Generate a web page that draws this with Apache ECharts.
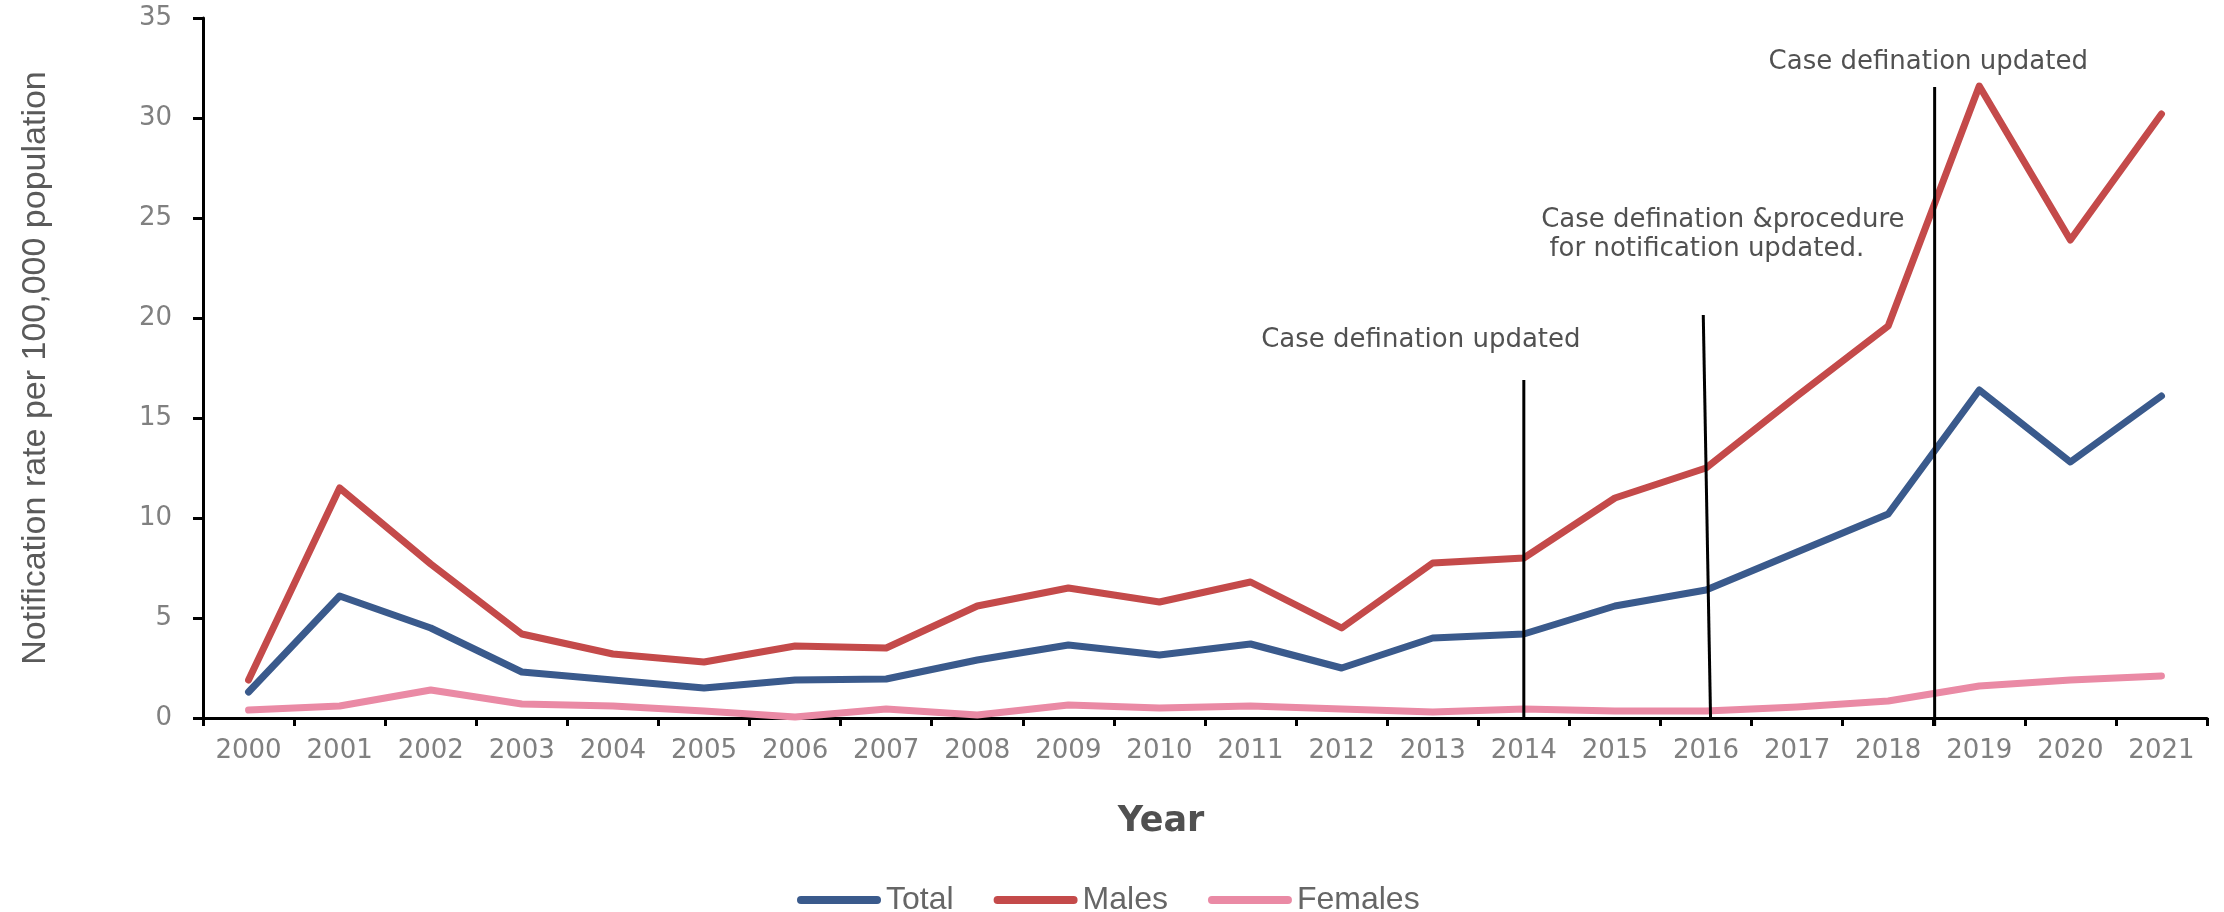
<!DOCTYPE html>
<html>
<head>
<meta charset="utf-8">
<script src="https://cdn.jsdelivr.net/npm/echarts@6/dist/echarts.min.js"></script>
<style>
html,body{margin:0;padding:0;background:#fff;}
#chart{width:2224px;height:912px;}
</style>
</head>
<body>
<div id="chart"></div>
<script>
// ---- data ----
const years = ['2000','2001','2002','2003','2004','2005','2006','2007','2008','2009','2010','2011','2012','2013','2014','2015','2016','2017','2018','2019','2020','2021'];
const total   = [1.3, 6.1, 4.5, 2.3, 1.9, 1.5, 1.9, 1.95, 2.9, 3.65, 3.15, 3.7, 2.5, 4.0, 4.2, 5.6, 6.4, 8.3, 10.2, 16.4, 12.8, 16.1];
const males   = [1.9, 11.5, 7.7, 4.2, 3.2, 2.8, 3.6, 3.5, 5.6, 6.5, 5.8, 6.8, 4.5, 7.75, 8.0, 11.0, 12.5, 16.1, 19.6, 31.6, 23.9, 30.2];
const females = [0.4, 0.6, 1.4, 0.7, 0.6, 0.35, 0.05, 0.45, 0.15, 0.65, 0.5, 0.6, 0.45, 0.3, 0.45, 0.35, 0.35, 0.55, 0.85, 1.6, 1.9, 2.1];
const yTicks  = {min: 0, max: 35, step: 5};

// annotation lines: [x (category index), y] start/end pairs
const annotLine1 = [[14.0, 0], [14.0, 16.9]];
const annotLine2 = [[16.05, 0], [15.97, 20.15]];
const annotLine3 = [[18.51, -0.4], [18.51, 31.55]];
// annotation texts: [x (category index), y, text]
const annotText1 = [12.87, 18.9, 'Case defination updated'];
const annotText2 = [14.19, 24.18, 'Case defination &procedure\n for notification updated.'];
const annotText3 = [18.44, 32.8, 'Case defination updated'];

const seriesNames = ['Total', 'Males', 'Females'];
const seriesColors = ['#3A5A8C', '#C44A4A', '#EA8AA5'];

// ---- chart ----
const chart = echarts.init(document.getElementById('chart'), null, {renderer: 'canvas'});

const lineSeries = [total, males, females].map((d, i) => ({
  name: seriesNames[i],
  type: 'line',
  data: d,
  xAxisIndex: 0,
  yAxisIndex: 0,
  symbol: 'none',
  smooth: false,
  lineStyle: {color: seriesColors[i], width: 7, cap: 'round', join: 'round'},
  itemStyle: {color: seriesColors[i]},
  z: 3 - i
}));

const vLine = (d) => ({
  type: 'line',
  xAxisIndex: 1,
  yAxisIndex: 0,
  data: d,
  symbol: 'none',
  clip: false,
  silent: true,
  lineStyle: {color: '#000', width: 3},
  z: 5
});

const textPoint = (t, align) => ({
  type: 'scatter',
  xAxisIndex: 1,
  yAxisIndex: 0,
  data: [[t[0], t[1]]],
  symbolSize: 0,
  silent: true,
  clip: false,
  label: {
    show: true,
    position: 'inside',
    align: align,
    verticalAlign: 'middle',
    formatter: t[2],
    fontFamily: 'DejaVu Sans',
    fontSize: 26,
    lineHeight: 29,
    color: '#262626'
  },
  z: 6
});

const legendIcon = 'path://M4,0 L80,0 A4,4 0 0 1 80,8 L4,8 A4,4 0 0 1 4,0 Z';

chart.setOption({
  animation: false,
  backgroundColor: '#fff',
  grid: {left: 203, right: 17, top: 18, bottom: 194, containLabel: false},
  legend: {
    data: seriesNames,
    left: 792,
    top: 879,
    icon: legendIcon,
    itemWidth: 84,
    itemHeight: 8,
    itemGap: 40,
    textStyle: {fontFamily: 'Liberation Sans', fontSize: 32, color: '#666666', lineHeight: 32}
  },
  xAxis: [{
    type: 'category',
    data: years,
    boundaryGap: true,
    name: 'Year',
    nameLocation: 'middle',
    nameGap: 86,
    nameTextStyle: {fontFamily: 'DejaVu Sans', fontWeight: 'bold', fontSize: 35, color: '#505050', padding: [0, 88, 0, 0]},
    axisLine: {show: true, onZero: false, lineStyle: {color: '#000', width: 3}},
    axisTick: {show: true, length: 8, lineStyle: {color: '#000', width: 3}},
    axisLabel: {fontFamily: 'DejaVu Sans', fontSize: 26, color: '#808080', margin: 20, interval: 0},
    splitLine: {show: false}
  }, {
    type: 'value',
    min: -0.5,
    max: 21.5,
    show: false,
    position: 'bottom',
    axisLine: {onZero: false}
  }],
  yAxis: [{
    type: 'value',
    min: yTicks.min,
    max: yTicks.max,
    interval: yTicks.step,
    name: 'Notification rate per 100,000 population',
    nameLocation: 'middle',
    nameGap: 150,
    nameRotate: 90,
    nameTextStyle: {fontFamily: 'Liberation Sans', fontSize: 34, color: '#5a5a5a'},
    axisLine: {show: true, onZero: false, lineStyle: {color: '#000', width: 3}},
    axisTick: {show: true, length: 10, lineStyle: {color: '#000', width: 3}},
    axisLabel: {fontFamily: 'DejaVu Sans', fontSize: 26, color: '#808080', margin: 31},
    splitLine: {show: false}
  }],
  series: [
    ...lineSeries,
    vLine(annotLine1),
    vLine(annotLine2),
    vLine(annotLine3),
    textPoint(annotText1, 'center'),
    textPoint(annotText2, 'left'),
    textPoint(annotText3, 'center')
  ]
});
</script>
</body>
</html>
